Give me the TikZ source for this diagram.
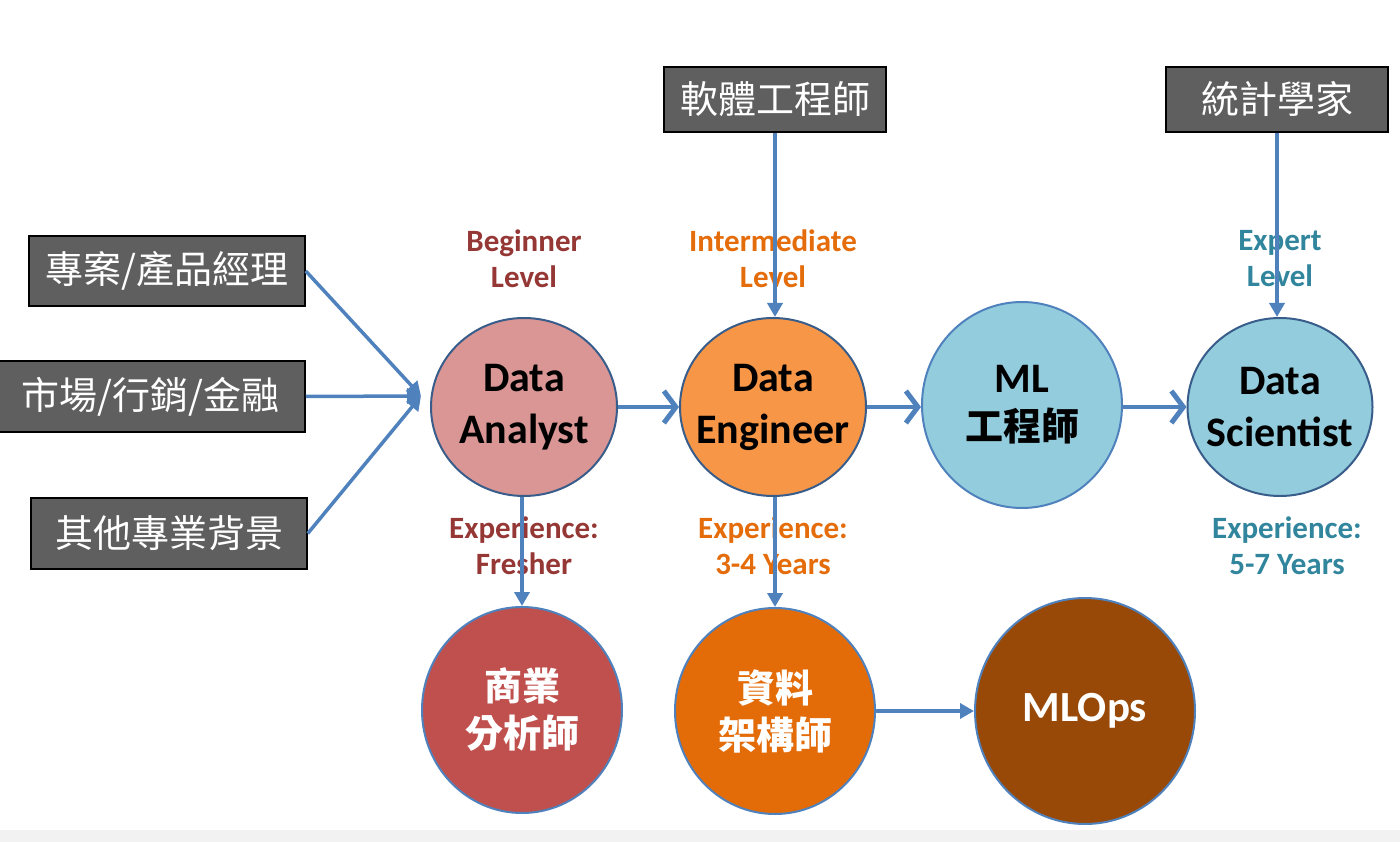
\documentclass[tikz,border=0pt]{standalone}
\usepackage{fontspec}
\setmainfont{Carlito}
\newfontfamily\cjk{Noto Sans CJK TC}
\usetikzlibrary{shapes.geometric,arrows.meta}
\definecolor{boxgray}{HTML}{5F5F5F}
\definecolor{arrowblue}{HTML}{4F81BD}
\definecolor{darkborder}{HTML}{385D8A}
\definecolor{dafill}{HTML}{D99694}
\definecolor{defill}{HTML}{F79646}
\definecolor{bluefill}{HTML}{93CDDD}
\definecolor{bafill}{HTML}{C0504D}
\definecolor{arfill}{HTML}{E36C09}
\definecolor{mlopsfill}{HTML}{984807}
\definecolor{lvred}{HTML}{953735}
\definecolor{lvorange}{HTML}{E46C0A}
\definecolor{lvteal}{HTML}{31859C}
\definecolor{stripgray}{HTML}{F2F2F2}
\tikzset{
  srcbox/.style={draw=black, line width=1.5pt, fill=boxgray, text=white, inner sep=0pt,
    font=\cjk\fontsize{38}{46}\selectfont},
  bubble/.style={ellipse, inner sep=0pt, line width=2pt},
  entext/.style={align=center, inner sep=0pt, font=\bfseries\fontsize{42}{52}\selectfont},
  cjtext/.style={align=center, inner sep=0pt, text=white, font=\cjk\bfseries\fontsize{38}{47}\selectfont},
  toplabel/.style={align=center, font=\bfseries\fontsize{31}{36}\selectfont},
  conn/.style={draw=arrowblue, line width=3.5pt},
  barb/.style={conn, -{Straight Barb[length=12pt,width=32pt,line width=5pt]}},
  tri/.style={conn, -{Triangle[length=14pt,width=15pt]}},
}
\begin{document}
\begin{tikzpicture}[x=1pt,y=-1pt]
\useasboundingbox (0,0) rectangle (1400,842);
\fill[stripgray] (0,830) rectangle (1400,842);

% source boxes
\node[srcbox, minimum width=276pt, minimum height=70pt] (pm) at (167,271) {專案/產品經理};
\node[srcbox, minimum width=309pt, minimum height=71pt] (mk) at (150.5,396.5) {市場/行銷/金融};
\node[srcbox, minimum width=276pt, minimum height=71pt] (ot) at (169,533.5) {其他專業背景};
\node[srcbox, minimum width=222pt, minimum height=65pt] (swe) at (775,99.5) {軟體工程師};
\node[srcbox, minimum width=222pt, minimum height=65pt] (stat) at (1277,99.5) {統計學家};

% main circles
\node[bubble, draw=darkborder, fill=dafill, minimum width=186pt, minimum height=178pt,
  label={[entext]center:Data\\Analyst}] (da) at (524,407) {};
\node[bubble, draw=darkborder, fill=defill, minimum width=186pt, minimum height=178pt,
  label={[entext]center:Data\\Engineer}] (de) at (773,407) {};
\node[bubble, draw=arrowblue, fill=bluefill, minimum width=200pt, minimum height=206pt,
  label={[entext, font=\bfseries\fontsize{42}{48}\selectfont]center:ML\\{\cjk\bfseries\fontsize{38}{48}\selectfont 工程師}}] (ml) at (1022,405) {};
\node[bubble, draw=darkborder, fill=bluefill, minimum width=185pt, minimum height=178pt,
  label={[entext]center:Data\\Scientist}] (ds) at (1280,407) {};

% bottom circles
\node[bubble, draw=arrowblue, fill=bafill, minimum width=200pt, minimum height=206pt,
  label={[cjtext]center:商業\\分析師}] (ba) at (522,710) {};
\node[bubble, draw=arrowblue, fill=arfill, minimum width=200pt, minimum height=206pt,
  label={[cjtext]center:資料\\架構師}] (ar) at (775,711) {};
\node[bubble, draw=arrowblue, fill=mlopsfill, minimum width=220pt, minimum height=226pt,
  label={[entext, text=white, font=\bfseries\fontsize{43}{50}\selectfont]center:MLOps}] (mlops) at (1085,711) {};

% level labels
\node[toplabel, text=lvred] (lvb) at (524,259) {Beginner\\Level};
\node[toplabel, text=lvorange] (lvi) at (773,259) {Intermediate\\Level};
\node[toplabel, text=lvteal] (lve) at (1280,259) {Expert\\Level};
\node[toplabel, text=lvred] (exa) at (524,546) {Experience:\\Fresher};
\node[toplabel, text=lvorange] (exe) at (773,546) {Experience:\\3-4 Years};
\node[toplabel, text=lvteal] (exs) at (1287,546) {Experience:\\5-7 Years};

% connectors
\coordinate (conv) at (421,396);
\draw[tri] (pm.east) -- (conv);
\draw[tri] (mk.east) -- (conv);
\draw[tri] (ot.east) -- (conv);

\draw[barb] (da.east) -- (de.west);
\draw[barb] (de.east) -- (ml.west |- de.east);
\draw[barb] (ml.east |- ds.west) -- (ds.west);

\draw[tri] (swe.south) -- (swe.south |- de.north);
\draw[tri] (stat.south) -- (stat.south |- ds.north);

\draw[tri] (da.south -| ba.north) -- (ba.north);
\draw[tri] (de.south -| ar.north) -- (ar.north);
\draw[tri] (ar.east) -- (mlops.west);
\end{tikzpicture}
\end{document}
